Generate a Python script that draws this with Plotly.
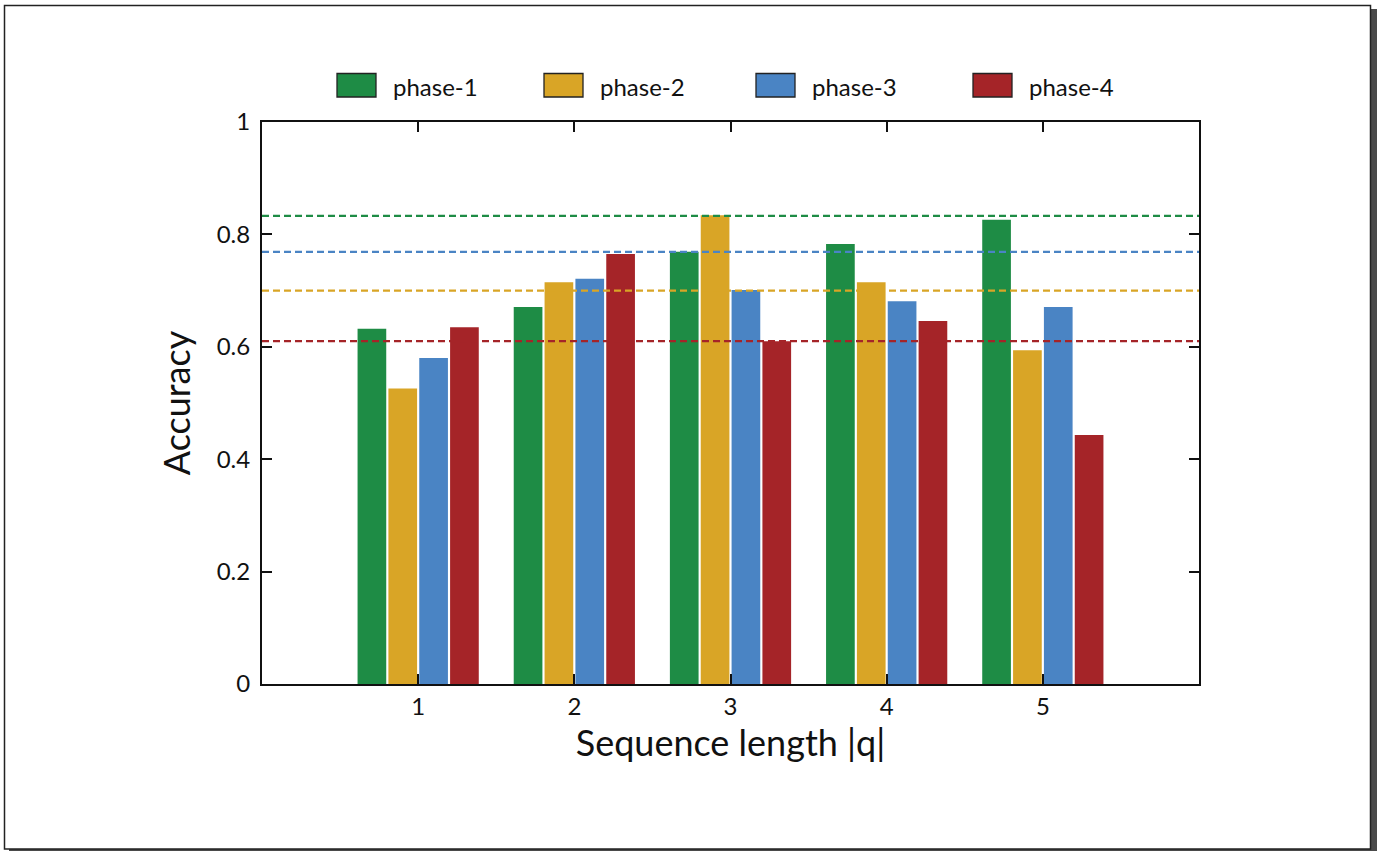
import plotly.graph_objects as go

categories = [1, 2, 3, 4, 5]
phase_names = ["phase-1", "phase-2", "phase-3", "phase-4"]
phase1 = [0.632, 0.671, 0.769, 0.783, 0.826]
phase2 = [0.526, 0.715, 0.834, 0.715, 0.594]
phase3 = [0.580, 0.721, 0.701, 0.681, 0.671]
phase4 = [0.635, 0.765, 0.610, 0.646, 0.443]
baselines = [0.833, 0.700, 0.769, 0.610]  # dashed reference lines per phase
colors = ["#1e8c45", "#d9a526", "#4a84c4", "#a52428"]
y_ticks = [0, 0.2, 0.4, 0.6, 0.8, 1]
y_tick_labels = ["0", "0.2", "0.4", "0.6", "0.8", "1"]

W, H = 1377, 851
L, R, T, B = 262, 1199, 122, 684  # plot area in pixels
pw, ph = R - L, B - T


def px_x(x):
    return (x - L) / pw


def px_y(y):
    return (B - y) / ph


FONT = "Lato"
fig = go.Figure()
series = [phase1, phase2, phase3, phase4]
for name, vals, col in zip(phase_names, series, colors):
    fig.add_trace(go.Bar(x=categories, y=vals, name=name, marker=dict(color=col, line=dict(width=0)),
                         showlegend=False))

shapes = []
# page frame shadow + frame
shapes.append(dict(type="rect", xref="paper", yref="paper", x0=px_x(9), x1=px_x(1377), y0=px_y(851), y1=px_y(9),
                   fillcolor="#4a4a4a", line=dict(width=0), layer="below"))
shapes.append(dict(type="rect", xref="paper", yref="paper", x0=px_x(4.5), x1=px_x(1370.5), y0=px_y(849), y1=px_y(5.5),
                   fillcolor="white", line=dict(color="#222", width=1.5), layer="below"))
# dashed baseline lines
for val, col in zip(baselines, colors):
    shapes.append(dict(type="line", xref="paper", yref="y", x0=0, x1=1, y0=val, y1=val,
                       line=dict(color=col, width=2.2, dash="7px,4px"), layer="above"))

# manual legend
legend_x = [337, 544, 756, 973]
annotations = []
for lx, name, col in zip(legend_x, phase_names, colors):
    shapes.append(dict(type="rect", xref="paper", yref="paper", x0=px_x(lx), x1=px_x(lx + 39),
                       y0=px_y(97), y1=px_y(73.5), fillcolor=col, line=dict(color="#222", width=1.3)))
    annotations.append(dict(xref="paper", yref="paper", x=px_x(lx + 54), y=px_y(86), text=name,
                            showarrow=False, xanchor="left", yanchor="middle",
                            font=dict(family=FONT, size=24, color="#111")))

fig.update_layout(
    width=W, height=H,
    margin=dict(l=L, r=W - R, t=T, b=H - B, pad=0),
    paper_bgcolor="white", plot_bgcolor="rgba(0,0,0,0)",
    barmode="group", bargap=0.21, bargroupgap=0.07,
    shapes=shapes, annotations=annotations,
    font=dict(family=FONT, color="#111"),
    showlegend=False,
)
fig.update_xaxes(range=[0, 6], tickvals=categories, ticktext=[str(c) for c in categories],
                 ticks="inside", ticklen=10, tickwidth=1.5, tickcolor="#111",
                 showline=True, linecolor="#111", linewidth=2, mirror="ticks",
                 showgrid=False, zeroline=False,
                 tickfont=dict(family=FONT, size=24, color="#111"),
                 title=dict(text="Sequence length |q|", font=dict(family=FONT, size=36, color="#111"), standoff=11))
fig.update_yaxes(range=[0, 1], tickvals=y_ticks, ticktext=y_tick_labels,
                 ticks="inside", ticklen=10, tickwidth=1.5, tickcolor="#111",
                 showline=True, linecolor="#111", linewidth=2, mirror="ticks",
                 showgrid=False, zeroline=False, ticklabelstandoff=5,
                 tickfont=dict(family=FONT, size=24, color="#111"),
                 title=dict(text="Accuracy", font=dict(family=FONT, size=36, color="#111"), standoff=15))

fig.write_html("out.html", config={"displayModeBar": False},
               post_script="document.body.style.margin='0px';document.body.style.overflow='hidden';")
